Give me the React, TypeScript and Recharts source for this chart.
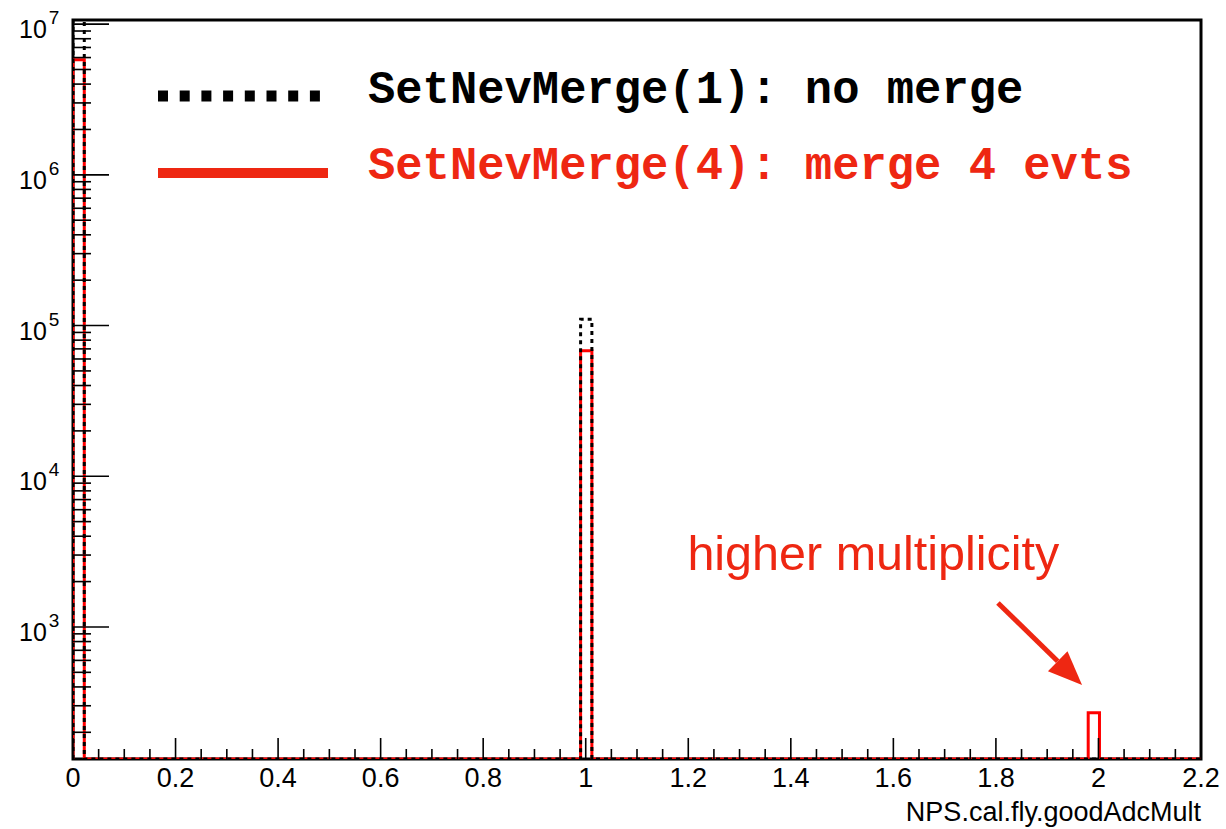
import {
  ComposedChart, Line, XAxis, YAxis, Legend, ReferenceArea, ReferenceLine, ReferenceDot,
} from 'recharts'

// histogram: 100 bins over [0, 2.2], only three bins are filled
const binWidth = 0.022
const binLow = [0, 0.99, 1.98]
const countsNoMerge = [1.2e7, 1.1e5, 0]
const countsMerge4 = [5.8e6, 6.8e4, 270]

const yMajor = [1e3, 1e4, 1e5, 1e6, 1e7]
const yExponents = ['3', '4', '5', '6', '7']
const xLabels = ['0', '0.2', '0.4', '0.6', '0.8', '1', '1.2', '1.4', '1.6', '1.8', '2', '2.2']

const X_MIN = 0
const X_MAX = 2.2
const Y_MIN = 133
const Y_MAX = 1.065e7

const PLOT_LEFT = 73
const PLOT_BOTTOM = 759
const SANS = '"Liberation Sans", Arial, Helvetica, sans-serif'
const MONO = '"Liberation Mono", "Courier New", monospace'
const HIST_RED = '#ff0000'
const NOTE_RED = '#ee2712'

// outline of a histogram as step points; empty bins sit on the frame floor
const toSteps = (counts: number[]) => {
  const pts = [{ x: X_MIN, y: Y_MIN }]
  counts.forEach((c, i) => {
    if (c <= 0) return
    pts.push({ x: binLow[i], y: c })
    pts.push({ x: +(binLow[i] + binWidth).toFixed(3), y: Y_MIN })
  })
  pts.push({ x: X_MAX, y: Y_MIN })
  return pts
}

const noMergeSteps = toSteps(countsNoMerge)
const merge4Steps = toSteps(countsMerge4)

const yTicks: number[] = []
for (let d = 100; d <= 1e6; d *= 10) {
  for (let k = 1; k <= 9; k++) {
    const v = k * d
    if (v >= Y_MIN) yTicks.push(v)
  }
}
yTicks.push(1e7)

const xTicks: number[] = []
for (let i = 0; i <= 44; i++) xTicks.push(+(i * 0.05).toFixed(2))

// eslint-disable-next-line @typescript-eslint/no-explicit-any
const YTick = ({ y, payload }: any) => {
  const idx = yMajor.indexOf(payload.value)
  const major = idx >= 0
  return (
    <g>
      <line x1={PLOT_LEFT} x2={PLOT_LEFT + (major ? 36 : 18)} y1={y} y2={y} stroke="#000" strokeWidth={1.6} />
      {major && (
        <text x={19} y={y + 14} fontFamily={SANS} fontSize={25} fill="#000">
          10
          <tspan dx={2} dy={-14} fontSize={19}>{yExponents[idx]}</tspan>
        </text>
      )}
    </g>
  )
}

// eslint-disable-next-line @typescript-eslint/no-explicit-any
const XTick = ({ x, payload }: any) => {
  const idx = Math.round(payload.value / 0.05)
  const major = idx % 4 === 0
  return (
    <g>
      <line x1={x} x2={x} y1={PLOT_BOTTOM} y2={PLOT_BOTTOM - (major ? 21 : 10)} stroke="#000" strokeWidth={1.6} />
      {major && (
        <text x={x} y={787} textAnchor="middle" fontFamily={SANS} fontSize={27} fill="#000">
          {xLabels[idx / 4]}
        </text>
      )}
    </g>
  )
}

const LegendBox = () => (
  <svg width={1000} height={140}>
    <line x1={8} x2={170} y1={36} y2={36} stroke="#000" strokeWidth={11} strokeDasharray="10 11.7" />
    <text x={218} y={43} fontFamily={MONO} fontWeight="bold" fontSize={45.5} fill="#000">
      SetNevMerge(1): no merge
    </text>
    <line x1={8} x2={178} y1={113} y2={113} stroke={NOTE_RED} strokeWidth={10} />
    <text x={218} y={119} fontFamily={MONO} fontWeight="bold" fontSize={45.5} fill={NOTE_RED}>
      SetNevMerge(4): merge 4 evts
    </text>
  </svg>
)

// eslint-disable-next-line @typescript-eslint/no-explicit-any
const Arrow = ({ x1, y1, x2, y2 }: any) => {
  const len = Math.hypot(x2 - x1, y2 - y1)
  const ux = (x2 - x1) / len
  const uy = (y2 - y1) / len
  const head = 34
  const half = 14
  const bx = x2 - ux * head
  const by = y2 - uy * head
  return (
    <g>
      <line x1={x1} y1={y1} x2={bx} y2={by} stroke={NOTE_RED} strokeWidth={5} />
      <polygon
        points={`${x2},${y2} ${bx - uy * half},${by + ux * half} ${bx + uy * half},${by - ux * half}`}
        fill={NOTE_RED}
      />
    </g>
  )
}

// eslint-disable-next-line @typescript-eslint/no-explicit-any
const Note = ({ cx, cy }: any) => (
  <text x={cx} y={cy} textAnchor="middle" fontFamily={SANS} fontSize={48.5} fill={NOTE_RED}>
    higher multiplicity
  </text>
)

// eslint-disable-next-line @typescript-eslint/no-explicit-any
const AxisTitle = ({ viewBox }: any) => (
  <text
    x={viewBox.x + viewBox.width}
    y={viewBox.y + 62}
    textAnchor="end"
    fontFamily={SANS}
    fontSize={27}
    fill="#000"
  >
    NPS.cal.fly.goodAdcMult
  </text>
)

export default function App() {
  return (
    <div style={{ position: 'absolute', left: 0, top: 0, background: '#fff' }}>
      <ComposedChart width={1226} height={829} margin={{ top: 20, right: 25, left: 0, bottom: 0 }}>
        <XAxis
          type="number"
          dataKey="x"
          domain={[X_MIN, X_MAX]}
          allowDataOverflow
          ticks={xTicks}
          interval={0}
          tick={XTick}
          tickLine={false}
          axisLine={false}
          height={70}
          label={AxisTitle}
        />
        <YAxis
          type="number"
          scale="log"
          domain={[Y_MIN, Y_MAX]}
          allowDataOverflow
          ticks={yTicks}
          interval={0}
          tick={YTick}
          tickLine={false}
          axisLine={false}
          width={73}
        />
        <ReferenceArea x1={X_MIN} x2={X_MAX} y1={Y_MIN} y2={Y_MAX} fill="none" stroke="#000" strokeWidth={3} />
        <Line
          data={merge4Steps}
          dataKey="y"
          type="stepAfter"
          stroke={HIST_RED}
          strokeWidth={3}
          dot={false}
          activeDot={false}
          isAnimationActive={false}
        />
        <Line
          data={noMergeSteps}
          dataKey="y"
          type="stepAfter"
          stroke="#000"
          strokeWidth={3}
          strokeDasharray="4 4"
          dot={false}
          activeDot={false}
          isAnimationActive={false}
        />
        <ReferenceLine
          segment={[{ x: 1.804, y: 1443 }, { x: 1.968, y: 412 }]}
          shape={Arrow}
        />
        <ReferenceDot x={1.561} y={2389} r={0} shape={Note} />
        <Legend
          content={LegendBox}
          layout="vertical"
          align="center"
          verticalAlign="middle"
          wrapperStyle={{ position: 'absolute', left: 150, top: 60, width: 1000, height: 140 }}
        />
      </ComposedChart>
    </div>
  )
}
